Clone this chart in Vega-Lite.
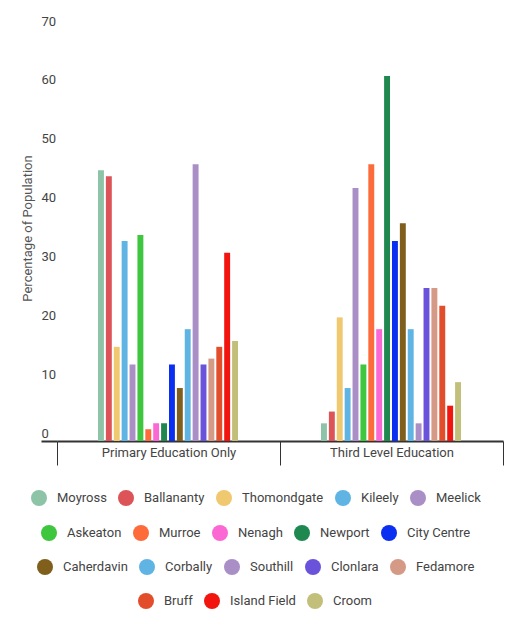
{
  "$schema": "https://vega.github.io/schema/vega-lite/v6.json",
  "width": 446,
  "height": 412,
  "autosize": "none",
  "padding": {"left": 57, "top": 29, "right": 19, "bottom": 184},
  "background": "white",
  "config": {
    "view": {"stroke": null},
    "font": "Roboto",
    "legend": {
      "orient": "none",
      "direction": "horizontal",
      "title": null,
      "symbolType": "circle",
      "symbolSize": 256,
      "symbolStrokeWidth": 0,
      "symbolOpacity": 1,
      "labelFontSize": 13,
      "labelColor": "#444",
      "labelOffset": 10,
      "columnPadding": 11,
      "padding": 0
    }
  },
  "data": {
    "values": [
      {"level": "Primary Education Only", "region": "Moyross", "pct": 46},
      {"level": "Primary Education Only", "region": "Ballananty", "pct": 45},
      {"level": "Primary Education Only", "region": "Thomondgate", "pct": 16},
      {"level": "Primary Education Only", "region": "Kileely", "pct": 34},
      {"level": "Primary Education Only", "region": "Meelick", "pct": 13},
      {"level": "Primary Education Only", "region": "Askeaton", "pct": 35},
      {"level": "Primary Education Only", "region": "Murroe", "pct": 2},
      {"level": "Primary Education Only", "region": "Nenagh", "pct": 3},
      {"level": "Primary Education Only", "region": "Newport", "pct": 3},
      {"level": "Primary Education Only", "region": "City Centre", "pct": 13},
      {"level": "Primary Education Only", "region": "Caherdavin", "pct": 9},
      {"level": "Primary Education Only", "region": "Corbally", "pct": 19},
      {"level": "Primary Education Only", "region": "Southill", "pct": 47},
      {"level": "Primary Education Only", "region": "Clonlara", "pct": 13},
      {"level": "Primary Education Only", "region": "Fedamore", "pct": 14},
      {"level": "Primary Education Only", "region": "Bruff", "pct": 16},
      {"level": "Primary Education Only", "region": "Island Field", "pct": 32},
      {"level": "Primary Education Only", "region": "Croom", "pct": 17},
      {"level": "Third Level Education", "region": "Moyross", "pct": 3},
      {"level": "Third Level Education", "region": "Ballananty", "pct": 5},
      {"level": "Third Level Education", "region": "Thomondgate", "pct": 21},
      {"level": "Third Level Education", "region": "Kileely", "pct": 9},
      {"level": "Third Level Education", "region": "Meelick", "pct": 43},
      {"level": "Third Level Education", "region": "Askeaton", "pct": 13},
      {"level": "Third Level Education", "region": "Murroe", "pct": 47},
      {"level": "Third Level Education", "region": "Nenagh", "pct": 19},
      {"level": "Third Level Education", "region": "Newport", "pct": 62},
      {"level": "Third Level Education", "region": "City Centre", "pct": 34},
      {"level": "Third Level Education", "region": "Caherdavin", "pct": 37},
      {"level": "Third Level Education", "region": "Corbally", "pct": 19},
      {"level": "Third Level Education", "region": "Southill", "pct": 3},
      {"level": "Third Level Education", "region": "Clonlara", "pct": 26},
      {"level": "Third Level Education", "region": "Fedamore", "pct": 26},
      {"level": "Third Level Education", "region": "Bruff", "pct": 23},
      {"level": "Third Level Education", "region": "Island Field", "pct": 6},
      {"level": "Third Level Education", "region": "Croom", "pct": 10}
    ]
  },
  "encoding": {
    "x": {
      "field": "level",
      "type": "nominal",
      "scale": {"domain": ["Primary Education Only", "Third Level Education"], "paddingInner": 0, "paddingOuter": 0},
      "axis": {
        "title": null,
        "labelAngle": 0,
        "tickBand": "extent",
        "tickSize": 24,
        "tickColor": "#333",
        "tickWidth": 1,
        "domainColor": "#333",
        "domainWidth": 2,
        "labelPadding": -19,
        "labelFontSize": 13,
        "labelColor": "#444",
        "labelBaseline": "top"
      }
    },
    "y": {
      "field": "pct",
      "type": "quantitative",
      "scale": {"domain": [0, 70], "nice": false},
      "axis": {
        "title": "Percentage of Population",
        "titleFontSize": 13,
        "titleFontWeight": "normal",
        "titleColor": "#555",
        "titleX": -30,
        "titleY": 199,
        "titleAlign": "center",
        "titleBaseline": "middle",
        "titleAngle": -90,
        "values": [0, 10, 20, 30, 40, 50, 60, 70],
        "grid": false,
        "domain": false,
        "tickSize": 16,
        "tickWidth": 2,
        "tickColor": {"condition": {"test": "datum.value == 0", "value": "#333"}, "value": "transparent"},
        "labelAlign": "left",
        "labelBaseline": "bottom",
        "labelPadding": 0,
        "labelOffset": -1,
        "labelFontSize": 13,
        "labelColor": "#444"
      }
    },
    "xOffset": {
      "field": "region",
      "type": "nominal",
      "scale": {
        "domain": ["Moyross", "Ballananty", "Thomondgate", "Kileely", "Meelick", "Askeaton", "Murroe", "Nenagh", "Newport", "City Centre", "Caherdavin", "Corbally", "Southill", "Clonlara", "Fedamore", "Bruff", "Island Field", "Croom"],
        "range": [41, 181],
        "paddingInner": 0.25,
        "paddingOuter": 0
      }
    }
  },
  "layer": [
    {
      "transform": [{"filter": {"field": "region", "oneOf": ["Moyross", "Ballananty", "Thomondgate", "Kileely", "Meelick"]}}],
      "mark": {"type": "bar"},
      "encoding": {
        "color": {
          "field": "region",
          "type": "nominal",
          "scale": {"domain": ["Moyross", "Ballananty", "Thomondgate", "Kileely", "Meelick"], "range": ["#8dc3a7", "#dc5358", "#efc870", "#5fb4e4", "#a98fc6"]},
          "legend": {"legendX": -26, "legendY": 461}
        }
      }
    },
    {
      "transform": [{"filter": {"field": "region", "oneOf": ["Askeaton", "Murroe", "Nenagh", "Newport", "City Centre"]}}],
      "mark": {"type": "bar"},
      "encoding": {
        "color": {
          "field": "region",
          "type": "nominal",
          "scale": {"domain": ["Askeaton", "Murroe", "Nenagh", "Newport", "City Centre"], "range": ["#3ec63f", "#fd6b3b", "#fb68d4", "#1f884f", "#0a2ff0"]},
          "legend": {"legendX": -16, "legendY": 496}
        }
      }
    },
    {
      "transform": [{"filter": {"field": "region", "oneOf": ["Caherdavin", "Corbally", "Southill", "Clonlara", "Fedamore"]}}],
      "mark": {"type": "bar"},
      "encoding": {
        "color": {
          "field": "region",
          "type": "nominal",
          "scale": {"domain": ["Caherdavin", "Corbally", "Southill", "Clonlara", "Fedamore"], "range": ["#7f5f1b", "#5fb4e4", "#a98fc6", "#6b52db", "#d49a86"]},
          "legend": {"legendX": -20, "legendY": 530}
        }
      }
    },
    {
      "transform": [{"filter": {"field": "region", "oneOf": ["Bruff", "Island Field", "Croom"]}}],
      "mark": {"type": "bar"},
      "encoding": {
        "color": {
          "field": "region",
          "type": "nominal",
          "scale": {"domain": ["Bruff", "Island Field", "Croom"], "range": ["#e24d2b", "#f1140f", "#c2bf7b"]},
          "legend": {"legendX": 81, "legendY": 564}
        }
      }
    }
  ],
  "resolve": {"scale": {"color": "independent"}}
}
